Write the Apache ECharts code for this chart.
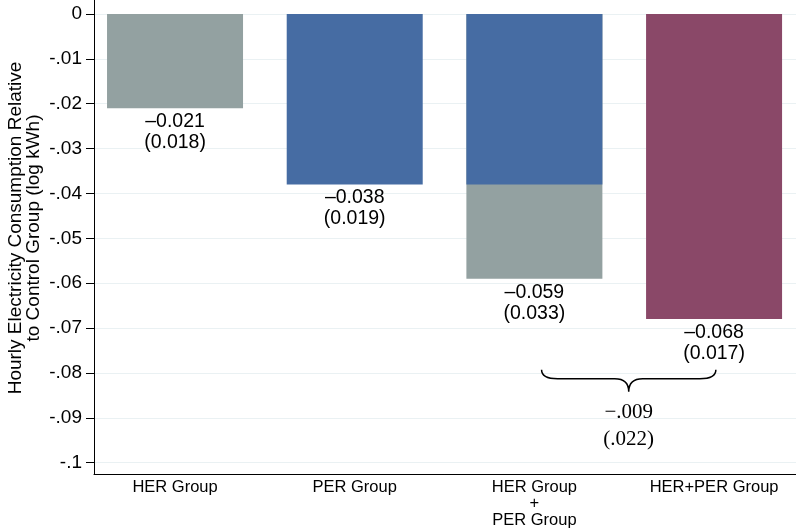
<!DOCTYPE html>
<html>
<head>
<meta charset="utf-8">
<script src="https://cdn.jsdelivr.net/npm/echarts@6/dist/echarts.min.js"></script>
<style>
html,body{margin:0;padding:0;background:#fff;}
#chart{width:796px;height:529px;}
</style>
</head>
<body>
<div id="chart"></div>
<script>
// ---- data ----
const categories = ['HER Group', 'PER Group', 'HER Group\n+\nPER Group', 'HER+PER Group'];
const categoryPositions = [1, 2, 3, 4];
// gray bars: HER effect alone, and HER+PER sum (PER part is overdrawn in blue)
const grayBars = [-0.021, '-', -0.059, '-'];
const blueBars = ['-', -0.038, -0.038, '-'];
const maroonBars = ['-', '-', '-', -0.068];
const estimateLabels = ['\u20130.021', '\u20130.038', '\u20130.059', '\u20130.068'];
const seLabels = ['(0.018)', '(0.019)', '(0.033)', '(0.017)'];
const labelOn = { gray: [0, 2], blue: [1], maroon: [3] };
const tickValues = [0, -0.01, -0.02, -0.03, -0.04, -0.05, -0.06, -0.07, -0.08, -0.09, -0.1];
const tickLabels = ['0', '-.01', '-.02', '-.03', '-.04', '-.05', '-.06', '-.07', '-.08', '-.09', '-.1'];
const yAxisTitle = 'Hourly Electricity Consumption Relative\nto Control Group (log kWh)';
const braceSpan = [3.04, 4.01];
const braceTop = -0.0793;
const diffValue = '\u2212.009';
const diffSE = '(.022)';
const diffValueY = -0.0887;
const diffSEY = -0.0949;

const COLORS = { gray: '#93a1a1', blue: '#466ca3', maroon: '#8a4868' };

function makeData(vals, key) {
  return vals.map((v, i) => ({
    value: [categoryPositions[i], v],
    label: { show: labelOn[key].indexOf(i) >= 0 && v !== '-' }
  }));
}
const barLabel = {
  position: 'bottom',
  distance: 3,
  fontFamily: 'Liberation Sans, Arial, sans-serif',
  fontSize: 19.5,
  lineHeight: 21,
  color: '#000',
  align: 'center',
  formatter: p => estimateLabels[p.dataIndex] + '\n' + seLabels[p.dataIndex]
};

const chart = echarts.init(document.getElementById('chart'), null, { renderer: 'canvas' });
const option = {
  animation: false,
  backgroundColor: '#fff',
  grid: { left: 94, right: 0, top: 0, bottom: 55, containLabel: false, outerBoundsMode: 'none' },
  graphic: [{
    type: 'text',
    x: 25,
    y: 228,
    rotation: Math.PI / 2,
    style: {
      text: yAxisTitle,
      fontFamily: 'Liberation Sans, Arial, sans-serif',
      fontSize: 19,
      lineHeight: 18,
      fill: '#000',
      align: 'center',
      verticalAlign: 'middle'
    }
  }],
  xAxis: {
    type: 'value',
    min: 0.549,
    max: 4.456,
    axisLine: { show: true, onZero: false, lineStyle: { color: '#000', width: 1 } },
    axisTick: { show: false },
    splitLine: { show: false },
    axisLabel: {
      customValues: categoryPositions,
      formatter: v => categories[Math.round(v) - 1],
      fontFamily: 'Liberation Sans, Arial, sans-serif',
      fontSize: 16.5,
      lineHeight: 16.5,
      color: '#000',
      margin: 5,
      align: 'center'
    }
  },
  yAxis: {
    type: 'value',
    min: -0.10252,
    max: 0.00312,
    axisLine: { show: true, onZero: false, lineStyle: { color: '#000', width: 1 } },
    axisTick: { show: true, length: 8, customValues: tickValues, lineStyle: { color: '#000' } },
    splitLine: { show: true, lineStyle: { color: '#eaf1f3', width: 1 } },
    axisLabel: {
      customValues: tickValues,
      formatter: v => {
        const i = tickValues.findIndex(t => Math.abs(t - v) < 1e-9);
        return i >= 0 ? tickLabels[i] : '';
      },
      fontFamily: 'Liberation Sans, Arial, sans-serif',
      fontSize: 19,
      color: '#000',
      margin: 12
    }
  },
  series: [
    {
      name: 'HER', type: 'bar', barWidth: 136, barGap: '-100%',
      itemStyle: { color: COLORS.gray },
      label: barLabel,
      data: makeData(grayBars, 'gray')
    },
    {
      name: 'PER', type: 'bar', barWidth: 136, barGap: '-100%',
      itemStyle: { color: COLORS.blue },
      label: barLabel,
      data: makeData(blueBars, 'blue')
    },
    {
      name: 'HER+PER', type: 'bar', barWidth: 136, barGap: '-100%',
      itemStyle: { color: COLORS.maroon },
      label: barLabel,
      data: makeData(maroonBars, 'maroon')
    },
    {
      type: 'custom',
      coordinateSystem: 'cartesian2d',
      encode: { x: [0, 1], y: 2 },
      data: [[braceSpan[0], braceSpan[1], braceTop]],
      z: 10,
      renderItem: function (params, api) {
        const a = api.coord([api.value(0), api.value(2)]);
        const b = api.coord([api.value(1), api.value(2)]);
        const x1 = a[0], x2 = b[0], y0 = a[1];
        const xm = (x1 + x2) / 2;
        const y1 = y0 + 9, y2 = y0 + 22, r = 16, rt = 14;
        const path = 'M' + x1 + ',' + y0 +
          ' Q' + x1 + ',' + y1 + ' ' + (x1 + r) + ',' + y1 +
          ' L' + (xm - rt) + ',' + y1 +
          ' Q' + xm + ',' + y1 + ' ' + xm + ',' + y2 +
          ' Q' + xm + ',' + y1 + ' ' + (xm + rt) + ',' + y1 +
          ' L' + (x2 - r) + ',' + y1 +
          ' Q' + x2 + ',' + y1 + ' ' + x2 + ',' + y0;
        const t1 = api.coord([(api.value(0) + api.value(1)) / 2, diffValueY]);
        const t2 = api.coord([(api.value(0) + api.value(1)) / 2, diffSEY]);
        const tstyle = { fontFamily: 'Liberation Serif, Times New Roman, serif', fontSize: 21, fill: '#000', align: 'center', verticalAlign: 'middle' };
        return {
          type: 'group',
          children: [
            { type: 'path', shape: { pathData: path }, style: { fill: 'none', stroke: '#000', lineWidth: 1.5 } },
            { type: 'text', x: t1[0], y: t1[1], style: Object.assign({ text: diffValue }, tstyle) },
            { type: 'text', x: t2[0], y: t2[1], style: Object.assign({ text: diffSE }, tstyle) }
          ]
        };
      }
    }
  ]
};
chart.setOption(option);
</script>
</body>
</html>
